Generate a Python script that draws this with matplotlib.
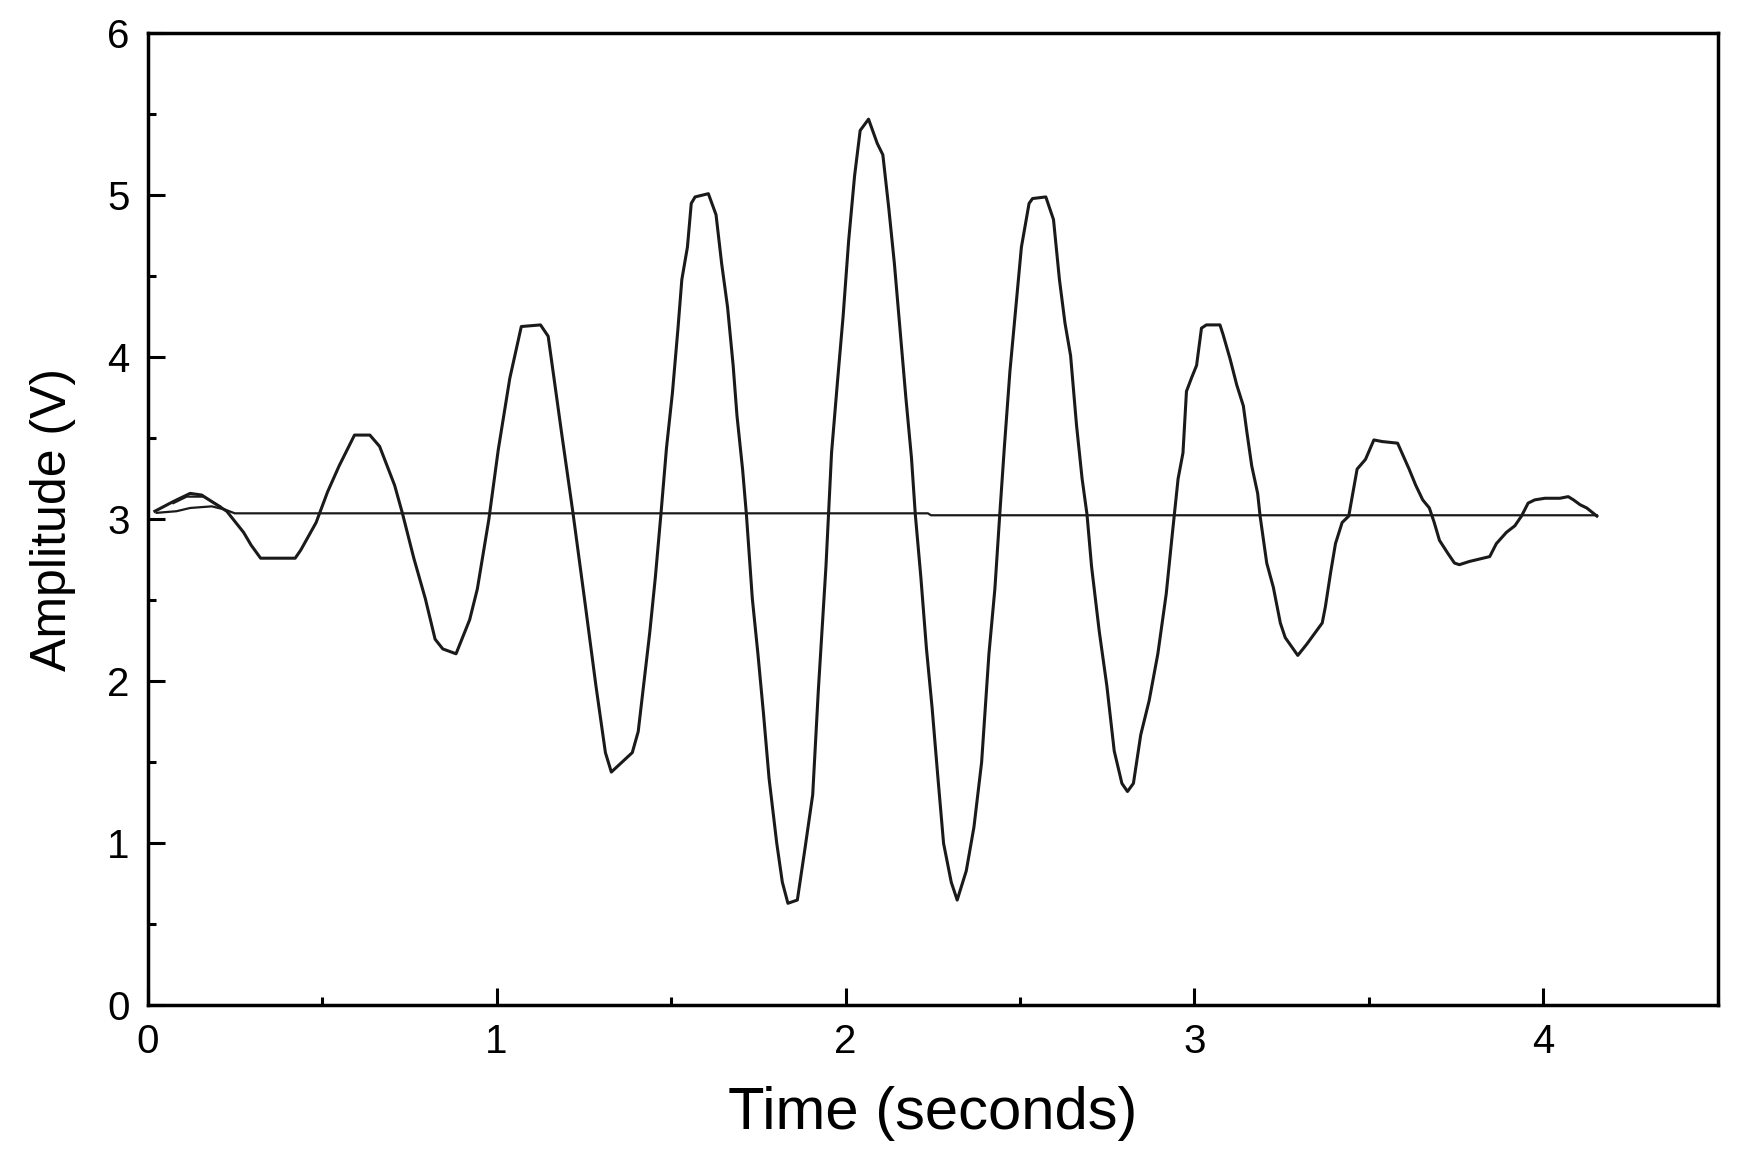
import matplotlib
matplotlib.use("Agg")
from matplotlib import pyplot as plt
from matplotlib.ticker import MultipleLocator

plt.rcParams['font.family'] = ['Liberation Sans', 'DejaVu Sans']

# signal trace (time in s, amplitude in V)
time = [0.021, 0.074, 0.122, 0.155, 0.184, 0.227, 0.275, 0.297, 0.324, 0.423,
        0.439, 0.483, 0.516, 0.549, 0.593, 0.637, 0.665, 0.708, 0.730, 0.763,
        0.796, 0.824, 0.846, 0.884, 0.923, 0.945, 0.978, 1.005, 1.038, 1.071,
        1.126, 1.148, 1.186, 1.219, 1.252, 1.285, 1.312, 1.329, 1.389, 1.406,
        1.439, 1.455, 1.471, 1.487, 1.504, 1.520, 1.531, 1.547, 1.558, 1.569,
        1.607, 1.629, 1.645, 1.662, 1.678, 1.689, 1.705, 1.716, 1.733, 1.749,
        1.765, 1.781, 1.803, 1.819, 1.835, 1.862, 1.884, 1.906, 1.922, 1.944,
        1.960, 1.977, 1.993, 2.009, 2.026, 2.042, 2.066, 2.091, 2.107, 2.124,
        2.140, 2.156, 2.173, 2.189, 2.200, 2.216, 2.232, 2.248, 2.265, 2.281,
        2.303, 2.320, 2.346, 2.368, 2.390, 2.411, 2.428, 2.442, 2.455, 2.471,
        2.488, 2.504, 2.526, 2.536, 2.574, 2.596, 2.613, 2.629, 2.645, 2.662,
        2.678, 2.692, 2.705, 2.727, 2.749, 2.770, 2.792, 2.808, 2.825, 2.846,
        2.870, 2.895, 2.919, 2.936, 2.953, 2.967, 2.977, 2.991, 3.006, 3.020,
        3.034, 3.073, 3.082, 3.102, 3.121, 3.140, 3.150, 3.164, 3.181, 3.188,
        3.207, 3.226, 3.246, 3.260, 3.296, 3.322, 3.366, 3.375, 3.390, 3.404,
        3.423, 3.442, 3.466, 3.490, 3.514, 3.538, 3.582, 3.615, 3.634, 3.654,
        3.673, 3.687, 3.702, 3.726, 3.745, 3.759, 3.788, 3.846, 3.865, 3.894,
        3.918, 3.937, 3.956, 3.975, 4.004, 4.047, 4.071, 4.086, 4.105, 4.124,
        4.153]
amplitude = [3.05, 3.11, 3.16, 3.15, 3.11, 3.05, 2.92, 2.84, 2.76, 2.76,
             2.81, 2.98, 3.17, 3.33, 3.52, 3.52, 3.45, 3.21, 3.04, 2.76,
             2.51, 2.26, 2.20, 2.17, 2.38, 2.57, 3.00, 3.43, 3.87, 4.19,
             4.20, 4.13, 3.54, 3.04, 2.51, 1.97, 1.56, 1.44, 1.56, 1.69,
             2.30, 2.64, 3.03, 3.44, 3.78, 4.18, 4.48, 4.68, 4.95, 4.99,
             5.01, 4.88, 4.58, 4.31, 3.95, 3.64, 3.31, 3.03, 2.51, 2.17,
             1.80, 1.40, 1.00, 0.76, 0.63, 0.65, 0.97, 1.30, 1.94, 2.71,
             3.41, 3.85, 4.25, 4.72, 5.12, 5.40, 5.47, 5.32, 5.25, 4.92,
             4.58, 4.18, 3.75, 3.38, 3.03, 2.64, 2.20, 1.84, 1.40, 1.00,
             0.76, 0.65, 0.83, 1.10, 1.50, 2.17, 2.57, 3.03, 3.44, 3.91,
             4.31, 4.68, 4.95, 4.98, 4.99, 4.85, 4.48, 4.21, 4.01, 3.58,
             3.25, 3.03, 2.71, 2.31, 1.97, 1.57, 1.37, 1.32, 1.37, 1.67,
             1.88, 2.17, 2.54, 2.90, 3.25, 3.41, 3.79, 3.87, 3.95, 4.18,
             4.20, 4.20, 4.14, 3.99, 3.83, 3.70, 3.54, 3.33, 3.16, 3.02,
             2.73, 2.58, 2.36, 2.27, 2.16, 2.23, 2.36, 2.46, 2.67, 2.85,
             2.98, 3.02, 3.31, 3.37, 3.49, 3.48, 3.47, 3.31, 3.21, 3.12,
             3.07, 2.98, 2.87, 2.79, 2.73, 2.72, 2.74, 2.77, 2.85, 2.92,
             2.96, 3.02, 3.10, 3.12, 3.13, 3.13, 3.14, 3.12, 3.09, 3.07,
             3.02]

# near-flat return trace
base_time = [0.026, 0.083, 0.122, 0.184, 0.222, 0.250, 2.236, 2.245, 4.153]
base_amp = [3.04, 3.05, 3.07, 3.08, 3.06, 3.037, 3.037, 3.025, 3.025]

# small second arch at the start
arch_time = [0.074, 0.112, 0.160, 0.208]
arch_amp = [3.10, 3.14, 3.14, 3.08]

fig = plt.figure(figsize=(17.42, 11.64), dpi=100)
ax = fig.add_axes([0.0847, 0.1363, 0.9015, 0.8351])

ax.plot(time, amplitude, color='#1a1a1a', lw=2.2)
ax.plot(base_time, base_amp, color='#1a1a1a', lw=1.6)
ax.plot(arch_time, arch_amp, color='#1a1a1a', lw=1.6)

ax.set_xlim(0, 4.5)
ax.set_ylim(0, 6)
ax.xaxis.set_major_locator(MultipleLocator(1))
ax.xaxis.set_minor_locator(MultipleLocator(0.5))
ax.yaxis.set_major_locator(MultipleLocator(1))
ax.yaxis.set_minor_locator(MultipleLocator(0.5))
ax.tick_params(which='both', direction='in', width=2.2, labelsize=29,
               top=False, right=False)
ax.tick_params(which='major', length=12, pad=13)
ax.tick_params(which='minor', length=6)
for s in ax.spines.values():
    s.set_linewidth(2.5)

ax.set_xlabel("Time (seconds)", fontsize=43, labelpad=18)
ax.set_ylabel("Amplitude (V)", fontsize=36, labelpad=22)

fig.savefig("out.png", dpi=100)
